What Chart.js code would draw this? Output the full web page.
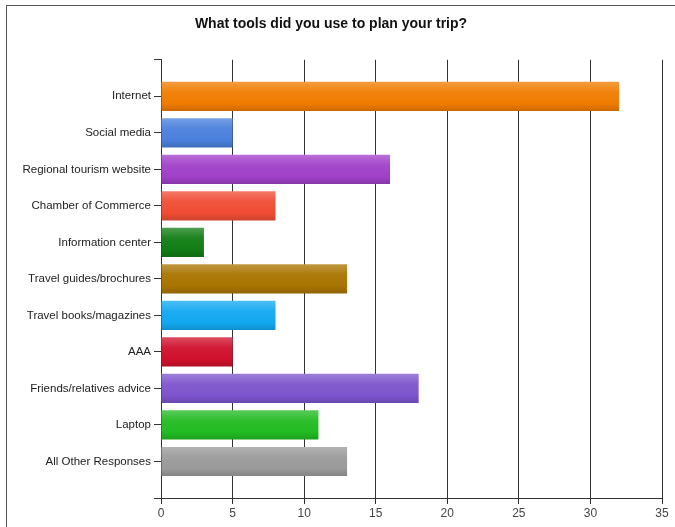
<!DOCTYPE html>
<html>
<head>
<meta charset="utf-8">
<script src="https://cdn.jsdelivr.net/npm/chart.js@4.4.1/dist/chart.umd.min.js"></script>
<style>
  html, body { margin: 0; padding: 0; background: #fff; }
  #wrap { position: relative; width: 675px; height: 527px; overflow: hidden; }
  #frame { position: absolute; left: 6px; top: 5px; width: 700px; height: 600px;
           border-left: 1px solid #555; border-top: 1px solid #555; }
  canvas { position: absolute; left: 0; top: 0; }
</style>
</head>
<body>
<div id="wrap">
  <div id="frame"></div>
  <canvas id="tools" width="675" height="527"></canvas>
</div>
<script>
  const categories = ['Internet', 'Social media', 'Regional tourism website', 'Chamber of Commerce',
    'Information center', 'Travel guides/brochures', 'Travel books/magazines', 'AAA',
    'Friends/relatives advice', 'Laptop', 'All Other Responses'];
  const responses = [32, 5, 16, 8, 3, 13, 8, 5, 18, 11, 13];
  const barColors = ['#f07c00', '#4a80dc', '#a040c8', '#f04c34', '#117d14', '#a97400',
    '#12a8f0', '#d0102c', '#7c54cc', '#22bb22', '#9a9a9a'];
  const xTicks = [0, 5, 10, 15, 20, 25, 30, 35];

  // blank slot above and below the bars
  const labels = [''].concat(categories, ['']);
  const values = [null].concat(responses, [null]);
  const colors = ['#fff'].concat(barColors, ['#fff']);

  function shade(hex, amt) {
    const n = parseInt(hex.slice(1), 16);
    let r = n >> 16, g = (n >> 8) & 255, b = n & 255;
    const f = v => Math.max(0, Math.min(255, Math.round(amt > 0 ? v + (255 - v) * amt : v * (1 + amt))));
    return 'rgb(' + f(r) + ',' + f(g) + ',' + f(b) + ')';
  }

  function glossy(context) {
    const chart = context.chart;
    const yScale = chart.scales.y;
    const base = colors[context.dataIndex];
    if (!yScale || !chart.chartArea) return base;
    const cy = yScale.getPixelForValue(context.dataIndex);
    const half = (yScale.getPixelForValue(1) - yScale.getPixelForValue(0)) * 0.8 / 2;
    const g = chart.ctx.createLinearGradient(0, cy - half, 0, cy + half);
    g.addColorStop(0, shade(base, 0.25));
    g.addColorStop(0.35, shade(base, 0.05));
    g.addColorStop(0.75, base);
    g.addColorStop(1, shade(base, -0.15));
    return g;
  }

  const ctx = document.getElementById('tools');

  new Chart(ctx, {
    type: 'bar',
    data: {
      labels: labels,
      datasets: [{
        label: 'Responses',
        data: values,
        backgroundColor: glossy,
        borderWidth: 0,
        categoryPercentage: 0.8,
        barPercentage: 1.0
      }]
    },
    options: {
      indexAxis: 'y',
      responsive: false,
      animation: false,
      layout: { padding: { left: 0, right: 13, top: 0, bottom: 0 } },
      plugins: {
        legend: { display: false },
        tooltip: { enabled: false },
        title: {
          display: true,
          text: 'What tools did you use to plan your trip?',
          color: '#111',
          font: { family: 'Liberation Sans, Arial, sans-serif', size: 14, weight: 'bold' },
          padding: { top: 16, bottom: 27 }
        }
      },
      scales: {
        x: {
          min: 0,
          max: 35,
          afterBuildTicks: scale => { scale.ticks = xTicks.map(v => ({ value: v })); },
          afterFit: scale => { scale.height = 29; },
          grid: { color: '#333', lineWidth: 1, tickLength: 6, drawOnChartArea: true },
          border: { color: '#333', width: 1 },
          ticks: {
            color: '#444',
            padding: 2,
            font: { family: 'Liberation Sans, Arial, sans-serif', size: 12 }
          }
        },
        y: {
          offset: false,
          afterFit: scale => { scale.width = 161; },
          grid: { color: '#333', lineWidth: 1, tickLength: 7, drawOnChartArea: false, offset: false },
          border: { color: '#333', width: 1 },
          ticks: {
            color: '#222',
            padding: 3,
            autoSkip: false,
            font: { family: 'Liberation Sans, Arial, sans-serif', size: 11.5 }
          }
        }
      }
    }
  });
</script>
</body>
</html>
